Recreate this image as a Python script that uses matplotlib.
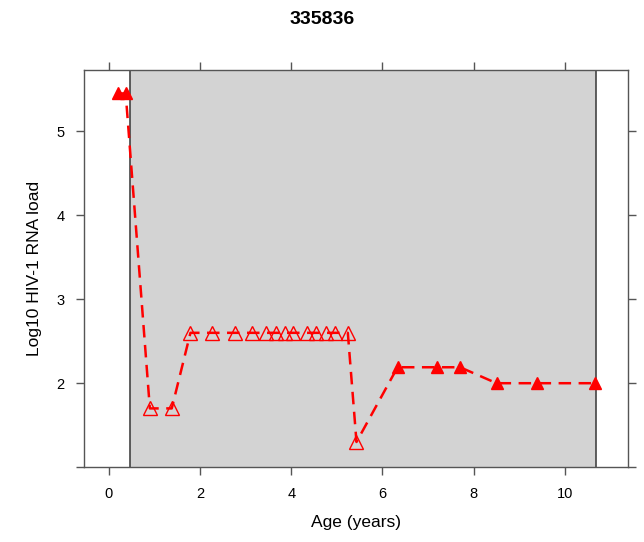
import numpy as np
import matplotlib.pyplot as plt

plt.rcParams['font.family'] = ['Liberation Sans', 'DejaVu Sans']

# age (years) and log10 viral load, per visit
age = [0.20, 0.37, 0.90, 1.38, 1.79, 2.27, 2.76, 3.15, 3.44, 3.66, 3.86, 4.04,
       4.34, 4.55, 4.76, 4.96, 5.24, 5.43, 6.33, 7.20, 7.70, 8.50, 9.38, 10.66]
load = [5.45, 5.45, 1.70, 1.70, 2.60, 2.60, 2.60, 2.60, 2.60, 2.60, 2.60, 2.60,
        2.60, 2.60, 2.60, 2.60, 2.60, 1.30, 2.19, 2.19, 2.19, 2.00, 2.00, 2.00]
# 1 = open marker (below detection / censored), 0 = filled
is_open = [0, 0, 1, 1, 1, 1, 1, 1, 1, 1, 1, 1,
           1, 1, 1, 1, 1, 1, 0, 0, 0, 0, 0, 0]
shade_start, shade_end = 0.46, 10.68
title = '335836'

age = np.array(age)
load = np.array(load)
is_open = np.array(is_open, dtype=bool)

fig = plt.figure(figsize=(6.44, 5.42), dpi=100)
ax = fig.add_axes([0.130, 0.138, 0.845, 0.733])

edge = '#555555'
ax.axvspan(shade_start, shade_end, facecolor='#d3d3d3', edgecolor='none', zorder=0)
ax.axvline(shade_start, color='#444444', lw=1.2, zorder=1)
ax.axvline(shade_end, color='#444444', lw=1.2, zorder=1)

ax.plot(age, load, color='red', lw=1.8, ls=(0, (5, 3)), zorder=2)
ax.plot(age[~is_open], load[~is_open], ls='none', marker='^', ms=8,
        color='red', markeredgecolor='red', zorder=3)
ax.plot(age[is_open], load[is_open], ls='none', marker='^', ms=10,
        markerfacecolor='none', markeredgecolor='red', mew=1.0, zorder=3)

ax.set_xlim(-0.55, 11.38)
ax.set_ylim(1.0, 5.73)
ax.set_xticks([0, 2, 4, 6, 8, 10])
ax.set_yticks([1, 2, 3, 4, 5])
ax.set_yticklabels(['', '2', '3', '4', '5'])

for s in ax.spines.values():
    s.set_color(edge)
    s.set_linewidth(1.0)
ax.tick_params(direction='out', length=6, width=1.0, color=edge,
               labelsize=10.5, pad=8, top=True, right=True,
               labeltop=False, labelright=False)

ax.set_xlabel('Age (years)', fontsize=12.5, labelpad=10)
ax.set_ylabel('Log10 HIV-1 RNA load', fontsize=12.5, labelpad=10)
fig.suptitle(title, fontsize=14, fontweight='bold', y=0.98)

fig.savefig('out.png', dpi=100)
